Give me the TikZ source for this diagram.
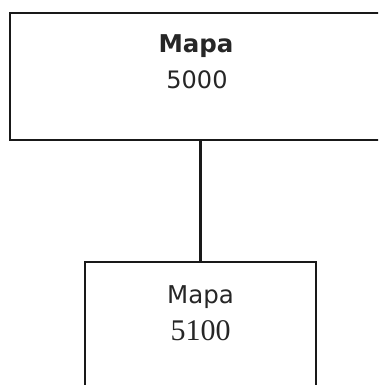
\documentclass[tikz,border=0pt]{standalone}
\usepackage{fontspec}
\setmainfont{DejaVu Sans}
\newfontfamily\numserif{Liberation Serif}
\begin{document}
\begin{tikzpicture}[x=1pt,y=-1pt,
  box/.style={draw=black!90, line width=2.6pt, rectangle, inner sep=0pt},
  lbl/.style={anchor=base, inner sep=0pt, text=black!85},
  conn/.style={draw=black!90, line width=2.6pt}]
\useasboundingbox (0,0) rectangle (378,385);
\begin{scope}
\clip (0,0) rectangle (378,385);
\node[box, minimum width=371pt, minimum height=127pt] (top) at (195.5,76.5) {};
\node[box, minimum width=231pt, minimum height=140pt] (bot) at (200.5,332) {};
\draw[conn] (top.south -| bot.north) -- (bot.north);
\end{scope}
\node[lbl, font=\bfseries\fontsize{24.5}{24.5}\selectfont] (t1) at (196,53) {Mapa};
\node[lbl, font=\fontsize{24}{24}\selectfont] (t2) at (197,89) {5000};
\node[lbl, font=\fontsize{24.5}{24.5}\selectfont] (b1) at (200.5,303) {Mapa};
\node[lbl, font=\numserif\fontsize{30}{30}\selectfont] (b2) at (200.5,340) {5100};
\end{tikzpicture}
\end{document}
